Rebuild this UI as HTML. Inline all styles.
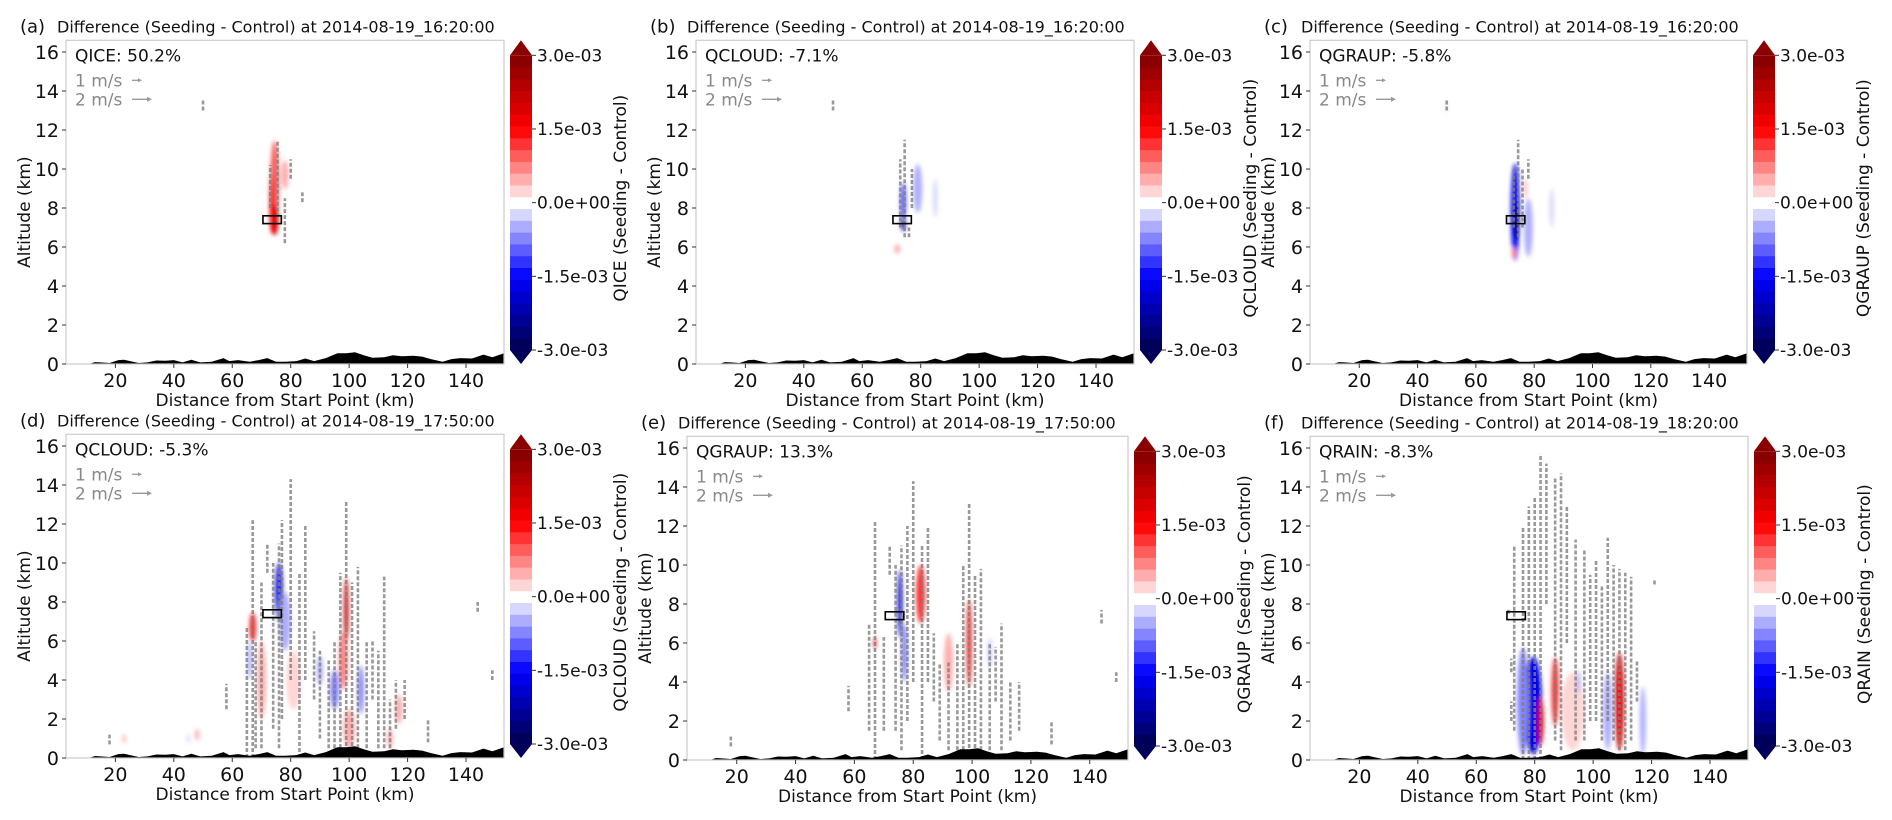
<!DOCTYPE html>
<html><head><meta charset="utf-8"><style>
html,body{margin:0;padding:0;background:#fff}
svg{display:block;font-family:"DejaVu Sans","Liberation Sans",sans-serif}
</style></head><body>
<svg id="fig" width="1892" height="820" viewBox="0 0 1892 820" xmlns="http://www.w3.org/2000/svg">
<defs><filter id="blur" x="-50%" y="-50%" width="200%" height="200%"><feGaussianBlur stdDeviation="2"/></filter></defs>
</svg>
<script>
const panelLetters=['a','b','c','d','e','f'];
const panelTimes=['2014-08-19_16:20:00','2014-08-19_16:20:00','2014-08-19_16:20:00','2014-08-19_17:50:00','2014-08-19_17:50:00','2014-08-19_18:20:00'];
const panelVars=['QICE','QCLOUD','QGRAUP','QCLOUD','QGRAUP','QRAIN'];
const panelPct=['50.2%','-7.1%','-5.8%','-5.3%','13.3%','-8.3%'];
const xTicks=[20,40,60,80,100,120,140];
const yTicks=[0,2,4,6,8,10,12,14,16];
const cbTicks=[3.0,1.5,0.0,-1.5,-3.0];
const cbTickLabels=['3.0e-03','1.5e-03','0.0e+00','-1.5e-03','-3.0e-03'];
const terrainX=[3,11,13,15,18,21,23,25,28,31,34,37,40,43,46,49,53,57,59,62,66,69,72,75,78,82,85,88,92,96,99,102,105,108,112,115,118,122,125,128,132,135,138,142,146,149,153];
const terrainH=[0,0,0.1,0.08,0.05,0.2,0.22,0.15,0.05,0.08,0.18,0.17,0.2,0.08,0.22,0.08,0.12,0.3,0.15,0.2,0.12,0.2,0.3,0.12,0.12,0.15,0.28,0.15,0.3,0.55,0.55,0.6,0.45,0.32,0.35,0.45,0.4,0.42,0.38,0.25,0.12,0.25,0.3,0.28,0.48,0.35,0.55];
// blobs: [xKm, yKm, widthKm, heightKm, value (1e-3)]
const blobsA=[[74.5,9.2,3,4.5,0.9],[74.5,7.4,2.5,1.6,2.0],[73.5,8.2,1.5,3,1.5],[78,9.7,2.5,1.5,0.5]];
const blobsB=[[74,7.3,1.5,1,-2.5],[74,8.3,2,2,-1],[79,9,3,2.5,-0.4],[85,8.5,1.5,2,-0.3],[72,5.9,2,0.5,0.5]];
const blobsC=[[73.5,7.8,3,5,-1.5],[74,7.3,2,2,-2.5],[78,7,3,3,-0.5],[77,9,1,1,0.4],[73,5.7,1.5,0.6,0.6],[86,8,1.5,2,-0.3],[50,13.2,0.6,0.6,-0.3]];
const blobsD=[[67,6.7,2,1.5,1.5],[76,8.5,2.5,3,-1.5],[78,7,4,3,-0.6],[70,4,3,4,0.4],[81,4,5,3,0.3],[99,7.5,1.5,3.5,1.8],[98,5,3,3,0.6],[95,3.5,3,2,-0.8],[104,3.5,2,2.5,-0.8],[100,1.5,4,2,0.4],[117,2.5,2.5,1.5,0.5],[114,1,2,1,0.5],[48,1.2,1.5,0.6,0.4],[23,1,1,0.5,0.4],[45,1,1,0.5,-0.3],[90,4.5,2,1.5,-0.4],[66,5,1.5,2,-0.4]];
const blobsE=[[75.5,8,1.5,3.5,-1.8],[77,5.5,2,3,-0.8],[82.5,8.5,3,3,1.2],[99,6,1.5,4.5,1.5],[92,5,3,3,0.4],[67,6,0.8,0.6,2],[106,5.5,1,1.5,-0.4]];
const blobsF=[[79.5,2.8,6,5,-1.6],[76,3,4,5.5,-0.7],[82,2,2,2.5,1.8],[87,3.5,2.5,3.5,1.3],[93,2.5,8,4,0.3],[109,3,3,5,1.6],[105,2.5,3,4,-0.4],[117,2,2,3.5,-0.4],[95,4,1.2,1.2,-0.5]];
// wind columns: [xKm, bottomKm, topKm]
const windA=[[50,13,13.6],[73,8,10.2],[75.5,7.5,11.5],[78,6.2,8.5],[80,9.5,10.5],[84,8.3,8.8]];
const windB=[[50,13,13.6],[73,7,10.5],[74.5,6.5,11.5],[77,8,10],[76,6.5,7]];
const windC=[[50,13,13.6],[73,7,10],[74.5,6.5,11.5],[76,7,10],[78,9.5,10.5]];
const windD=[[18,0.7,1.2],[58,2.5,3.8],[65,0,6.7],[67,0,12.2],[68,0.5,6],[70,0.5,9],[72,9.5,11],[74,1.5,10],[76,0.5,11],[77,2,12.2],[80,4,14.3],[83,0,9.5],[85,4,12],[88,3,6.5],[90,1,5.5],[93,0.5,5],[95,0.5,6],[97,0.2,9.5],[99,0,13.2],[101,0,9],[103,0.5,9.8],[106,0.5,6],[108,3,6],[110,0.5,5.5],[112,0.5,9.3],[114,0.5,3],[116,1.5,4],[119,2,4],[127,0.8,2],[144,7.5,8],[149,4,4.5]];
const windE=[[18,0.7,1.2],[58,2.5,3.8],[65,1.5,7],[67,0,12.2],[70,1.5,6.3],[72,9.5,11],[74,1.5,10],[76,0.5,11],[78,2,12],[80,4,14.3],[83,0,11],[85,4,12],[87,3,6.5],[89,1,5],[92,0.5,5],[95,0.5,6],[97,0.2,10],[99,0,13.2],[101,0,9.5],[103,0.5,9.8],[106,0.5,6],[108,3,5.8],[110,0.5,7],[113,1,4],[116,1.5,4],[127,0.8,2],[144,7,7.7],[149,4,4.5]];
const windF=[[71,7.5,7.8],[72,4.5,5.2],[72,2,3],[73,1.5,11],[76,0,12],[78,0,13],[80,0,13.5],[82,0,15.7],[84,8,15.2],[87,1,14.5],[89,0.5,14.7],[91,6,13],[94,1,11.3],[97,1,10.8],[99,2,9.5],[101,2,10.3],[103,1,9],[105,2,11.4],[107,1,10],[109,0.5,9.8],[111,0.5,9.6],[113,1,9.4],[115,3,5.1],[121,9,9.3]];
const allBlobs=[blobsA,blobsB,blobsC,blobsD,blobsE,blobsF];
const allWind=[windA,windB,windC,windD,windE,windF];

const NS='http://www.w3.org/2000/svg';
const svg=document.getElementById('fig');
function mk(tag,attrs,parent,text){const e=document.createElementNS(NS,tag);for(const k in attrs)e.setAttribute(k,attrs[k]);if(text!==undefined)e.textContent=text;(parent||svg).appendChild(e);return e;}
function seismic(v){let t=(v+3)/6;t=Math.max(0,Math.min(1,t));const nb=25;t=(Math.min(nb-1,Math.floor(t*nb))+0.5)/nb;let r,g,b;
 if(t<0.25){const s=t/0.25;r=0;g=0;b=0.3+0.7*s;}else if(t<0.5){const s=(t-0.25)/0.25;r=s;g=s;b=1;}else if(t<0.75){const s=(t-0.5)/0.25;r=1;g=1-s;b=1-s;}else{const s=(t-0.75)/0.25;r=1-0.5*s;g=0;b=0;}
 return `rgb(${Math.round(r*255)},${Math.round(g*255)},${Math.round(b*255)})`;}
const XMIN=3.1,XMAX=153,YMIN=0,YMAX=16.6;
const lefts=[66,696,1310,66,687,1310];
const widths=[438,438,437,438,441,438];
const zeros=[364,364,364,758,760,760];
const PXKM=19.5;

for(let p=0;p<6;p++){
 const L=lefts[p],W=widths[p],Z=zeros[p],T=Z-YMAX*PXKM,H=Z-T;
 const xs=v=>L+(v-XMIN)/(XMAX-XMIN)*W;
 const ys=v=>Z-(v-YMIN)*PXKM;
 const g=mk('g',{});
 
 
 const cp=mk('clipPath',{id:'clip'+p},g);mk('rect',{x:L,y:T,width:W,height:H},cp);
 const t1=mk('text',{x:L-46,y:T-8,'font-size':18,fill:'#111'},g,'('+panelLetters[p]+')');
 
 
 const t2=mk('text',{x:L-9,y:T-8,'font-size':16,fill:'#111'},g,'Difference (Seeding - Control) at '+panelTimes[p]);
 
 
 const bg=mk('g',{'clip-path':'url(#clip'+p+')'},g);
 const bg2=mk('g',{filter:'url(#blur)'},bg);
 allBlobs[p].forEach(b=>{const e=mk('ellipse',{cx:xs(b[0]),cy:ys(b[1]),rx:(b[2]/2)/(XMAX-XMIN)*W,ry:b[3]/2*PXKM,fill:seismic(b[4])},bg2);
  
  });
 allWind[p].forEach(w=>{const x=xs(w[0]);const e=mk('line',{x1:x,x2:x,y1:ys(w[1]),y2:ys(w[2]),stroke:'#808080','stroke-width':2.6,'stroke-dasharray':'4 2',opacity:0.8},bg);
  
  });
 let d='M'+xs(terrainX[0])+','+ys(0);
 terrainX.forEach((x,i)=>{d+=' L'+xs(x).toFixed(1)+','+ys(terrainH[i]).toFixed(1);});
 d+=' L'+xs(terrainX[terrainX.length-1])+','+ys(0)+' Z';
 const tr=mk('path',{d:d,fill:'#000'},bg);
 
 
 const sb=mk('rect',{x:xs(70.5),y:ys(7.6),width:xs(76.8)-xs(70.5),height:ys(7.2)-ys(7.6),fill:'none',stroke:'#000','stroke-width':1.6},g);
 
 
 const fr=mk('rect',{x:L,y:T,width:W,height:H,fill:'none',stroke:'#ccc','stroke-width':1.2},g);
 
 
 const an=mk('text',{x:L+9,y:T+21,'font-size':17,fill:'#111'},g,panelVars[p]+': '+panelPct[p]);
 
 
 const k1=mk('text',{x:L+9,y:T+46,'font-size':17,fill:'#888'},g,'1 m/s');
 
 
 mk('line',{x1:L+66,x2:L+74,y1:T+40,y2:T+40,stroke:'#999','stroke-width':1.3},g);
 mk('path',{d:`M${L+76},${T+40} l-4,-2 v4 z`,fill:'#999'},g);
 const k2=mk('text',{x:L+9,y:T+65,'font-size':17,fill:'#888'},g,'2 m/s');
 
 
 mk('line',{x1:L+66,x2:L+83,y1:T+59,y2:T+59,stroke:'#999','stroke-width':1.3},g);
 mk('path',{d:`M${L+86},${T+59} l-5,-2.5 v5 z`,fill:'#999'},g);
 yTicks.forEach(v=>{const y=ys(v);mk('line',{x1:L-4,x2:L,y1:y,y2:y,stroke:'#333'},g);
  const e=mk('text',{x:L-7,y:y+7,'font-size':19,'text-anchor':'end',fill:'#111'},g,String(v));
  
  });
 xTicks.forEach(v=>{const x=xs(v);mk('line',{x1:x,x2:x,y1:Z,y2:Z+4,stroke:'#333'},g);
  const e=mk('text',{x:x,y:Z+23,'font-size':19,'text-anchor':'middle',fill:'#111'},g,String(v));
  
  });
 const xl=mk('text',{x:L+W/2,y:Z+42,'font-size':17,'text-anchor':'middle',fill:'#111'},g,'Distance from Start Point (km)');
 
 
 const yl=mk('text',{x:0,y:0,'font-size':17,'text-anchor':'middle',fill:'#111',transform:`translate(${L-36},${(T+Z)/2+10}) rotate(-90)`},g,'Altitude (km)');
 
 
 const cx=L+W+6,cw=22,cTop=T+15,cBot=Z-14,nb=25;
 const cs=v=>cTop+(3-v)/6*(cBot-cTop);
 const cg=mk('g',{},g);
 
 
 for(let i=0;i<nb;i++){const v0=-3+6*i/nb,v1=-3+6*(i+1)/nb;
  mk('rect',{x:cx,y:cs(v1),width:cw,height:cs(v0)-cs(v1)+0.5,fill:seismic((v0+v1)/2)},cg);}
 mk('path',{d:`M${cx},${cTop} L${cx+cw/2},${T} L${cx+cw},${cTop} Z`,fill:seismic(3)},cg);
 mk('path',{d:`M${cx},${cBot} L${cx+cw/2},${Z} L${cx+cw},${cBot} Z`,fill:seismic(-3)},cg);
 cbTicks.forEach((v,i)=>{const y=cs(v);mk('line',{x1:cx+cw,x2:cx+cw+4,y1:y,y2:y,stroke:'#333'},cg);
  const e=mk('text',{x:cx+cw+5,y:y+6,'font-size':17,fill:'#111'},cg,cbTickLabels[i]);
  
  });
 const cl=mk('text',{x:0,y:0,'font-size':17,'text-anchor':'middle',fill:'#111',transform:`translate(${cx+cw+94},${(T+Z)/2-4}) rotate(-90)`},cg,panelVars[p]+' (Seeding - Control)');
 
 
}
</script>
</body></html>
